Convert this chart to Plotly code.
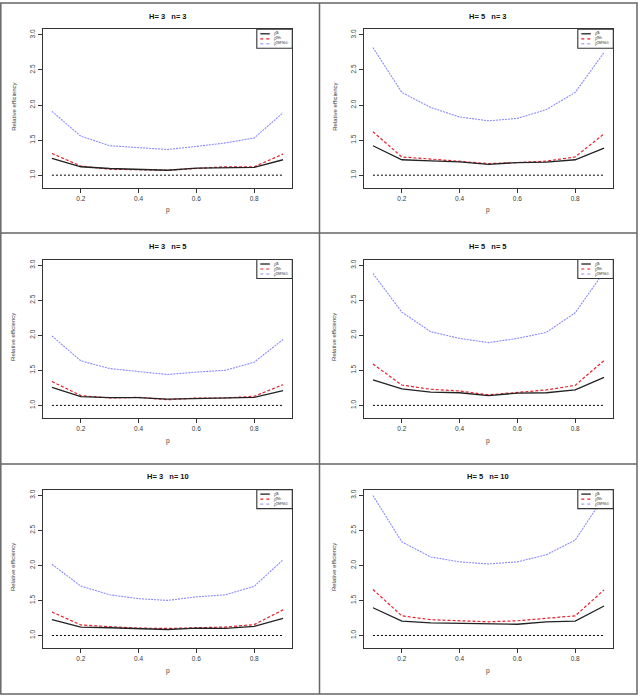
import plotly.graph_objects as go

W, H = 642, 696

p = [0.1, 0.2, 0.3, 0.4, 0.5, 0.6, 0.7, 0.8, 0.9]
titles = ["H= 3   n= 3", "H= 5   n= 3", "H= 3   n= 5", "H= 5   n= 5", "H= 3   n= 10", "H= 5   n= 10"]
legend_labels = ["ρ̂ᴬ", "ρ̂ᴵᴹˢ", "ρ̂ᴶᴹᴾᴹᶜᴰ"]
y_ticks = [1.0, 1.5, 2.0, 2.5, 3.0]
x_ticks = [0.2, 0.4, 0.6, 0.8]
reference = [1.0] * 9

black_A = [
    [1.24, 1.12, 1.095, 1.085, 1.07, 1.10, 1.11, 1.11, 1.22],
    [1.42, 1.22, 1.205, 1.19, 1.155, 1.18, 1.185, 1.22, 1.385],
    [1.255, 1.125, 1.11, 1.11, 1.09, 1.10, 1.105, 1.115, 1.21],
    [1.365, 1.235, 1.19, 1.18, 1.14, 1.175, 1.18, 1.22, 1.40],
    [1.225, 1.12, 1.11, 1.10, 1.085, 1.105, 1.10, 1.13, 1.245],
    [1.395, 1.205, 1.18, 1.17, 1.16, 1.16, 1.195, 1.205, 1.42],
]
red_IMS = [
    [1.31, 1.13, 1.085, 1.08, 1.07, 1.095, 1.12, 1.12, 1.30],
    [1.62, 1.26, 1.23, 1.195, 1.165, 1.18, 1.20, 1.26, 1.59],
    [1.34, 1.14, 1.105, 1.115, 1.08, 1.105, 1.105, 1.13, 1.295],
    [1.59, 1.29, 1.23, 1.205, 1.15, 1.185, 1.22, 1.285, 1.64],
    [1.335, 1.15, 1.125, 1.105, 1.10, 1.115, 1.12, 1.155, 1.365],
    [1.655, 1.28, 1.225, 1.205, 1.195, 1.21, 1.24, 1.28, 1.65],
]
blue_JMP = [
    [1.91, 1.556, 1.42, 1.39, 1.366, 1.41, 1.46, 1.53, 1.89],
    [2.82, 2.18, 1.965, 1.83, 1.775, 1.81, 1.935, 2.18, 2.75],
    [1.99, 1.635, 1.525, 1.48, 1.44, 1.475, 1.50, 1.615, 1.94],
    [2.88, 2.33, 2.05, 1.955, 1.895, 1.955, 2.04, 2.32, 2.905],
    [2.015, 1.705, 1.58, 1.525, 1.50, 1.55, 1.58, 1.70, 2.08],
    [2.995, 2.335, 2.12, 2.05, 2.02, 2.05, 2.15, 2.36, 2.98],
]

FONT = "Liberation Sans, Arial, sans-serif"
TXT = "#3a3a3a"


def px(x):
    return x / W


def py(y):
    return 1 - y / H


col_left = [42.7, 363.7]
box_w = 249.6
row_top = [29.3, 259.5, 489.6]
box_h = 158.5

fig = go.Figure()
shapes = []
annotations = []

for i in range(6):
    r, c = divmod(i, 2)
    k = "" if i == 0 else str(i + 1)
    x0, x1 = col_left[c], col_left[c] + box_w
    y0, y1 = row_top[r], row_top[r] + box_h
    xa = dict(
        domain=[px(x0), px(x1)], range=[0.068, 0.932], anchor="y" + k,
        tickvals=x_ticks, ticktext=["0.2", "0.4", "0.6", "0.8"],
        ticks="outside", ticklen=4, tickwidth=1, tickcolor="#333",
        showline=True, linecolor="#333", linewidth=1.3, mirror=True,
        showgrid=False, zeroline=False,
        tickfont=dict(family=FONT, size=6.5, color=TXT),
    )
    ya = dict(
        domain=[py(y1), py(y0)], range=[0.82, 3.08], anchor="x" + k,
        tickvals=y_ticks, ticktext=["1.0", "1.5", "2.0", "2.5", "3.0"],
        tickangle=-90,
        ticks="outside", ticklen=4, tickwidth=1, tickcolor="#333",
        showline=True, linecolor="#333", linewidth=1.3, mirror=True,
        showgrid=False, zeroline=False,
        tickfont=dict(family=FONT, size=6.5, color=TXT),
    )
    fig.update_layout(**{"xaxis" + k: xa, "yaxis" + k: ya})

    xr, yr = "x" + k, "y" + k
    fig.add_trace(go.Scatter(x=p, y=reference, mode="lines", xaxis=xr, yaxis=yr,
                             line=dict(color="black", width=1, dash="2px,2px"), showlegend=False))
    fig.add_trace(go.Scatter(x=p, y=blue_JMP[i], mode="lines", xaxis=xr, yaxis=yr,
                             line=dict(color="#8a8aff", width=1.1, dash="2px,1px"), showlegend=False))
    fig.add_trace(go.Scatter(x=p, y=red_IMS[i], mode="lines", xaxis=xr, yaxis=yr,
                             line=dict(color="#e8202a", width=1.2, dash="3px,2px"), showlegend=False))
    fig.add_trace(go.Scatter(x=p, y=black_A[i], mode="lines", xaxis=xr, yaxis=yr,
                             line=dict(color="#222", width=1.3), showlegend=False))

    cx = (x0 + x1) / 2
    annotations.append(dict(text="<b>" + titles[i].replace(" ", "\u00a0") + "</b>", x=px(cx), y=py(y0 - 13),
                            xref="paper", yref="paper",
                            showarrow=False, font=dict(family=FONT, size=7.5, color="#111"),
                            xanchor="center", yanchor="middle"))
    annotations.append(dict(text="p", x=px(cx), y=py(y1 + 22.5), xref="paper", yref="paper",
                            showarrow=False, font=dict(family=FONT, size=6.5, color=TXT),
                            xanchor="center", yanchor="middle"))
    annotations.append(dict(text="Relative efficiency", x=px(x0 - 29.5), y=py((y0 + y1) / 2 - 2), xref="paper", yref="paper",
                            showarrow=False, textangle=-90, font=dict(family=FONT, size=6, color=TXT),
                            xanchor="center", yanchor="middle"))

    # legend box
    lx0, lx1 = x1 - 35.5, x1
    ly0, ly1 = y0, y0 + 19
    shapes.append(dict(type="rect", xref="paper", yref="paper", x0=px(lx0), x1=px(lx1), y0=py(ly1), y1=py(ly0),
                       line=dict(color="#333", width=1.1), fillcolor="white", layer="above"))
    styles = [("#222", 1.3, "solid"), ("#e8202a", 1.2, "dot"), ("#8a8aff", 1.0, "dot")]
    for j, (col, wd, ds) in enumerate(styles):
        yy = ly0 + 4.5 + j * 5
        shapes.append(dict(type="line", xref="paper", yref="paper", x0=px(lx0 + 3.5), x1=px(lx0 + 13),
                           y0=py(yy), y1=py(yy), line=dict(color=col, width=wd, dash=ds), layer="above"))
        annotations.append(dict(text=legend_labels[j], x=px(lx0 + 15.5), y=py(yy), xref="paper", yref="paper",
                                showarrow=False, font=dict(family=FONT, size=4.5, color="#555"),
                                xanchor="left", yanchor="middle"))

# panel frame lines
frame_col = "#666"
shapes.append(dict(type="rect", xref="paper", yref="paper", x0=px(0.8), x1=px(637), y0=py(694), y1=py(3),
                   line=dict(color=frame_col, width=1.5)))
shapes.append(dict(type="line", xref="paper", yref="paper", x0=px(319.5), x1=px(319.5), y0=py(694), y1=py(3),
                   line=dict(color=frame_col, width=1.5)))
for yy in [233, 464]:
    shapes.append(dict(type="line", xref="paper", yref="paper", x0=px(0.8), x1=px(637), y0=py(yy), y1=py(yy),
                       line=dict(color=frame_col, width=1.5)))

fig.update_layout(
    width=W, height=H, margin=dict(l=0, r=0, t=0, b=0),
    paper_bgcolor="white", plot_bgcolor="white",
    shapes=shapes, annotations=annotations, showlegend=False,
    font=dict(family=FONT),
)

fig.write_html("out.html")
